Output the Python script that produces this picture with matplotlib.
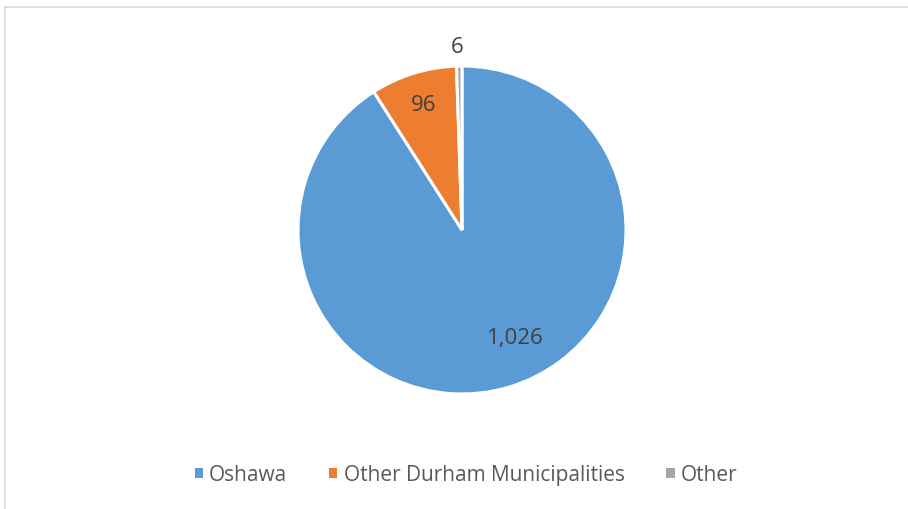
import matplotlib.pyplot as plt
import numpy as np
from matplotlib.patches import Rectangle

# Data
labels = ['Oshawa', 'Other Durham Municipalities', 'Other']
values = [1026, 96, 6]
value_text = ['1,026', '96', '6']
colors = ['#5B9BD5', '#ED7D31', '#A5A5A5']

plt.rcParams['font.family'] = ['Open Sans', 'DejaVu Sans']

W, H = 908, 510
fig = plt.figure(figsize=(W / 100, H / 100), dpi=100)

# Chart frame (only top and left edges visible in the crop)
fig.patches.append(Rectangle((5 / W, -0.1), 1.2, (H - 8) / H + 0.1,
                             transform=fig.transFigure, fill=False,
                             edgecolor='#D9D9D9', linewidth=1.2))

# Pie placed so that its centre is at (462, 231) px with radius 164 px
cx, cy, r = 462, 231, 164
ax = fig.add_axes([(cx - r) / W, 1 - (cy + r) / H, 2 * r / W, 2 * r / H])

wedges, _ = ax.pie(values, colors=colors, startangle=90, counterclock=False,
                   wedgeprops=dict(edgecolor='white', linewidth=2.2))
ax.set_xlim(-1, 1)
ax.set_ylim(-1, 1)
ax.set_aspect('equal')

# Data labels
dists = [0.73, 0.80, 1.12]
shifts = [10, 0, 0.5]
for w, txt, d, s in zip(wedges, value_text, dists, shifts):
    ang = np.deg2rad((w.theta1 + w.theta2) / 2 + s)
    ax.text(d * np.cos(ang), d * np.sin(ang), txt, ha='center', va='center',
            fontsize=16, color='#404040')

leg = fig.legend(wedges, labels, loc='center',
                 bbox_to_anchor=(0.5 + 12 / W, 1 - 476 / H),
                 ncol=3, frameon=False, fontsize=15, handlelength=0.4,
                 handleheight=0.4, handletextpad=0.3, columnspacing=2.0)
for t in leg.get_texts():
    t.set_color('#595959')
for h in leg.legend_handles:
    h.set_edgecolor('none')

fig.savefig('out.png', dpi=100)
